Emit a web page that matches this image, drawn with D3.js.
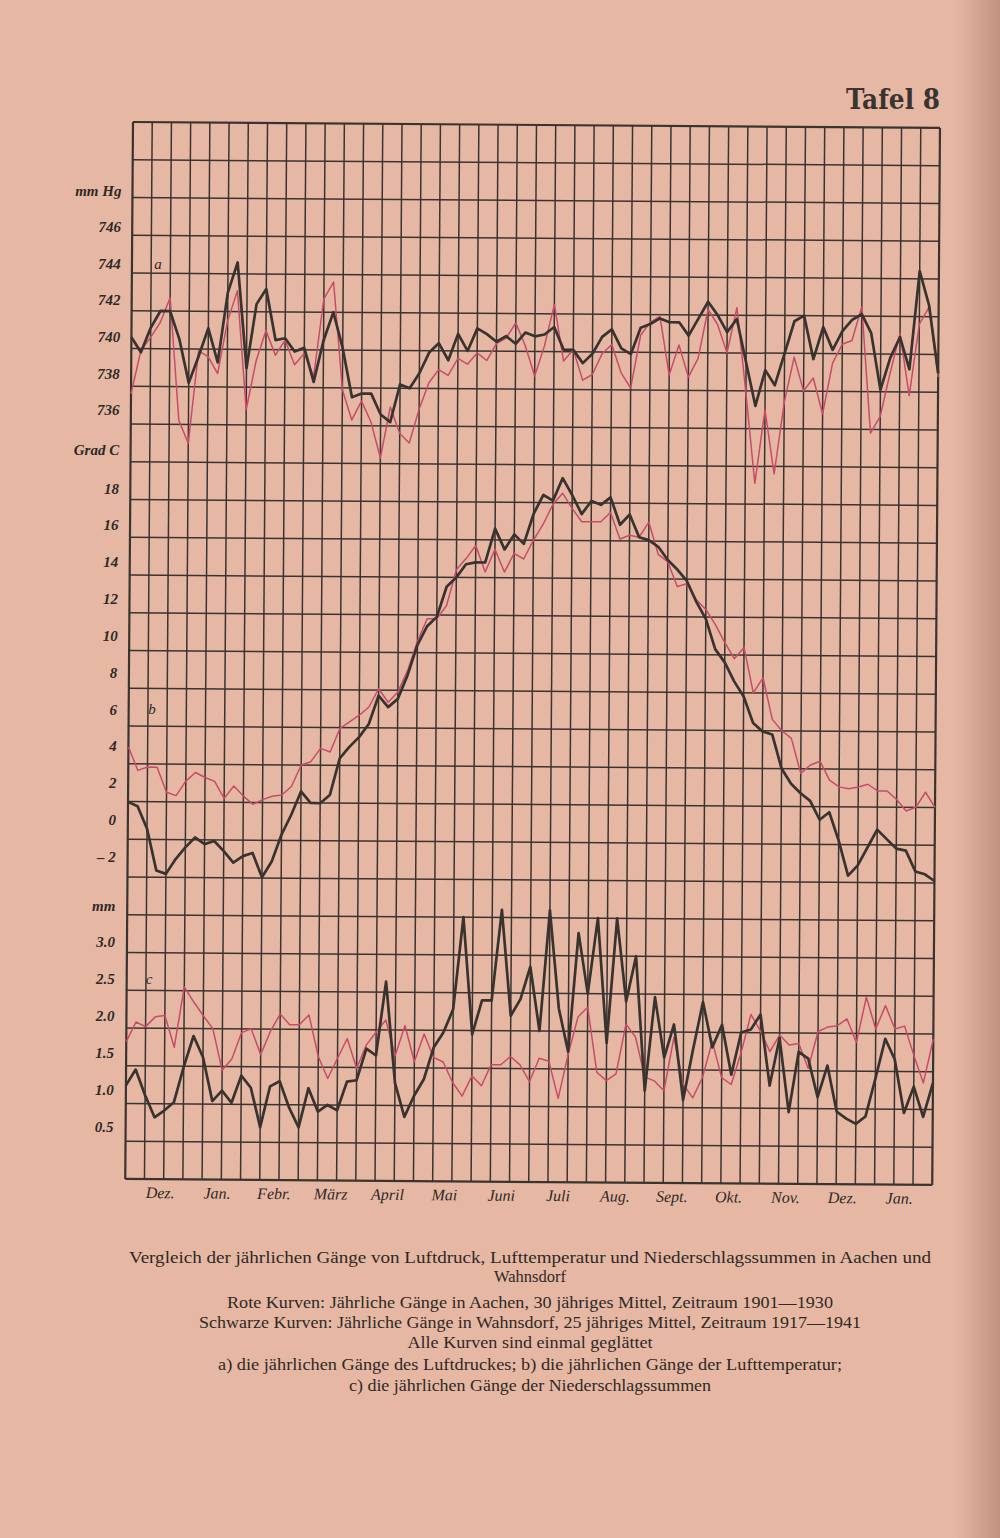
<!DOCTYPE html>
<html lang="de">
<head>
<meta charset="utf-8">
<script src="https://cdn.jsdelivr.net/npm/d3@7"></script>
<style>
  body { margin: 0; background: #e6b8a4; }
  svg { display: block; }
  .lbl { font-family: "Liberation Serif", "DejaVu Serif", serif; font-style: italic; font-weight: bold; font-size: 15px; fill: #2e2926; }
  .mon { font-family: "Liberation Serif", "DejaVu Serif", serif; font-style: italic; font-size: 16px; fill: #2e2926; }
  .cap { font-family: "Liberation Serif", "DejaVu Serif", serif; font-size: 16px; fill: #2e2926; }
  .tafel { font-family: "DejaVu Serif", serif; font-weight: bold; font-size: 28px; fill: #3a3431; }
</style>
</head>
<body>
<svg id="plate"></svg>
<script>
var pageW = 1000, pageH = 1538;
var W = 807, H = 1057;          // grid size, 42 x 28 cells
var ox = 133, oy = 122;         // top-left corner of the grid
var tilt = 0.42;                // the scan is a bit rotated

var months = ["Dez.", "Jan.", "Febr.", "März", "April", "Mai", "Juni", "Juli", "Aug.", "Sept.", "Okt.", "Nov.", "Dez.", "Jan."];
var pressTicks = [746, 744, 742, 740, 738, 736];
var tempTicks = [18, 16, 14, 12, 10, 8, 6, 4, 2, 0, -2];
var precTicks = [3.0, 2.5, 2.0, 1.5, 1.0, 0.5];

// a) Luftdruck, mm Hg (85 values, ~5 days apart)
var pressBlack = [740.6, 739.8, 741.1, 742.0, 742.0, 740.5, 738.2, 739.6, 741.1, 739.3,
  743.0, 744.6, 739.0, 742.4, 743.2, 740.5, 740.6, 739.9, 740.1, 738.3,
  740.5, 742.0, 740.1, 737.5, 737.7, 737.7, 736.6, 736.2, 738.2, 738.0,
  738.8, 739.9, 740.4, 739.5, 740.9, 740.0, 741.2, 740.9, 740.5, 740.8,
  740.4, 741.0, 740.8,
  740.9, 741.3, 740.1, 740.1, 739.4, 739.9, 740.8, 741.2, 740.2, 739.9,
  741.3, 741.5, 741.8, 741.6, 741.6, 740.9, 741.8, 742.7, 742.0, 741.1,
  741.8, 739.5, 737.2, 739.1, 738.3, 740.0, 741.7, 742.0, 739.7, 741.4,
  740.2, 741.2, 741.8, 742.1, 741.1, 738.1, 739.8, 740.9, 739.2, 744.4,
  742.6, 739.0];
var pressRed = [737.6, 739.9, 740.6, 741.4, 742.7, 736.2, 735.0, 739.9, 739.6, 738.7,
  741.5, 743.1, 736.8, 739.4, 741.0, 739.7, 740.5, 739.2, 739.8, 738.6,
  742.7, 743.6, 737.9, 736.3, 737.3, 736.2, 734.3, 737.0, 735.6, 735.1,
  736.9, 738.3, 739.0, 738.7, 739.6, 739.3, 739.9, 739.5, 740.4, 740.7,
  741.5, 740.3, 738.7,
  740.3, 742.5, 739.5, 740.1, 738.5, 738.8, 739.9, 740.4, 738.9, 738.1,
  740.9, 741.6, 741.9, 738.8, 740.4, 738.7, 739.7, 742.3, 741.5, 740.0,
  742.4, 737.9, 733.1, 737.0, 733.6, 737.4, 739.8, 738.0, 738.7, 736.8,
  739.5, 740.5, 740.7, 742.5, 735.8, 736.7, 739.0, 741.1, 737.8, 741.6,
  742.5, 738.8];

// b) Lufttemperatur, Grad C
var tempBlack = [1.98, 1.75, 0.56, -1.65, -1.82, -1.03, -0.41, 0.12, -0.23, -0.06,
  -0.59, -1.2, -0.85, -0.68, -1.96, -1.12, 0.3, 1.36, 2.6, 2.0,
  1.98, 2.42, 4.36, 4.98, 5.5, 6.2, 7.7, 7.1, 7.54, 8.8,
  10.4, 11.4, 11.9, 13.5, 14.0, 14.7, 14.8, 14.8, 16.6, 15.5,
  16.3, 15.8, 17.4,
  18.4, 18.1, 19.3, 18.4, 17.4, 18.1, 17.9, 18.3, 16.85, 17.4,
  16.2, 16.05, 15.7, 15.0, 14.5, 13.9, 12.8, 11.9, 10.3, 9.6,
  8.6, 7.8, 6.4, 5.95, 5.8, 4.0, 3.2, 2.7, 2.3, 1.3,
  1.7, 0.2, -1.65, -1.1, -0.15, 0.8, 0.3, -0.2, -0.3, -1.4,
  -1.55, -1.9];
var tempRed = [4.89, 3.65, 3.83, 3.83, 2.5, 2.33, 3.1, 3.56, 3.3, 3.1,
  2.2, 2.86, 2.33, 1.9, 2.15, 2.33, 2.4, 2.86, 4.0, 4.18,
  4.89, 4.7, 5.95, 6.3, 6.66, 7.1, 8.07, 7.36, 7.9, 9.04,
  10.6, 11.8, 11.8, 12.5, 14.4, 15.0, 15.7, 14.3, 15.5, 14.3,
  15.3, 15.0, 16.0,
  16.85, 17.9, 18.5, 17.7, 17.0, 17.0, 17.0, 17.5, 16.1, 16.3,
  16.2, 17.0, 15.3, 14.9, 13.6, 13.75, 12.9, 12.4, 11.6, 10.65,
  9.8, 10.4, 8.0, 8.8, 6.6, 6.0, 5.6, 3.75, 4.2, 4.4,
  3.4, 3.05, 2.95, 3.05, 3.2, 2.85, 2.85, 2.4, 1.8, 2.0,
  2.8, 2.0];

// c) Niederschlag, mm
var precBlack = [1.24, 1.45, 1.11, 0.82, 0.91, 1.02, 1.49, 1.9, 1.62, 1.04,
  1.18, 1.02, 1.38, 1.22, 0.7, 1.24, 1.31, 0.96, 0.7, 1.22,
  0.91, 1.0, 0.93, 1.31, 1.33, 1.75, 1.66, 2.64, 1.3, 0.85,
  1.13, 1.35, 1.77, 1.97, 2.28, 3.5, 1.95, 2.4, 2.4, 3.6,
  2.2, 2.42, 2.85,
  2.0, 3.6, 2.3, 1.73, 3.3, 2.5, 3.5, 1.85, 3.5, 2.4,
  3.0, 1.22, 2.46, 1.66, 2.1, 1.1, 1.77, 2.4, 1.8, 2.1,
  1.44, 2.0, 2.04, 2.24, 1.3, 1.93, 0.95, 1.75, 1.66, 1.15,
  1.57, 0.96, 0.87, 0.8, 0.9, 1.4, 1.93, 1.66, 0.95, 1.3,
  0.9, 1.35];
var precRed = [1.82, 2.08, 2.02, 2.15, 2.17, 1.75, 2.55, 2.35, 2.17, 2.0,
  1.45, 1.6, 1.95, 2.0, 1.66, 1.97, 2.2, 2.06, 2.06, 2.19,
  1.64, 1.35, 1.62, 1.88, 1.49, 1.8, 1.97, 2.13, 1.66, 2.06,
  1.58, 1.95, 1.64, 1.58, 1.31, 1.13, 1.4, 1.27, 1.55, 1.55,
  1.66, 1.55, 1.33,
  1.64, 1.6, 1.11, 1.69, 2.19, 2.32, 1.46, 1.35, 1.44, 2.1,
  1.93, 1.4, 1.35, 1.22, 1.93, 1.31, 1.13, 1.4, 1.88, 1.4,
  1.31, 1.73, 2.24, 2.02, 1.75, 1.97, 1.84, 1.86, 1.53, 2.02,
  2.08, 2.1, 2.19, 1.88, 2.48, 2.06, 2.37, 2.06, 2.1, 1.71,
  1.35, 1.93];

var captionLines = [
  "Vergleich der jährlichen Gänge von Luftdruck, Lufttemperatur und Niederschlagssummen in Aachen und",
  "Wahnsdorf",
  "Rote Kurven: Jährliche Gänge in Aachen, 30 jähriges Mittel, Zeitraum 1901—1930",
  "Schwarze Kurven: Jährliche Gänge in Wahnsdorf, 25 jähriges Mittel, Zeitraum 1917—1941",
  "Alle Kurven sind einmal geglättet",
  "a) die jährlichen Gänge des Luftdruckes; b) die jährlichen Gänge der Lufttemperatur;",
  "c) die jährlichen Gänge der Niederschlagssummen"
];
var captionWidths = [802, 72, 606, 662, 245, 624, 362];

var svg = d3.select("#plate").attr("width", pageW).attr("height", pageH);

// paper
var defs = svg.append("defs");
var grad = defs.append("linearGradient").attr("id", "edge").attr("x1", "0").attr("x2", "1");
grad.append("stop").attr("offset", "0").attr("stop-color", "#7a4a38").attr("stop-opacity", 0);
grad.append("stop").attr("offset", "1").attr("stop-color", "#7a4a38").attr("stop-opacity", 0.35);
svg.append("rect").attr("width", pageW).attr("height", pageH).attr("fill", "#e6b8a4");
svg.append("rect").attr("x", 955).attr("width", 45).attr("height", pageH).attr("fill", "url(#edge)");

svg.append("text").attr("class", "tafel")
  .attr("x", 940).attr("y", 109).attr("text-anchor", "end")
  .attr("textLength", 94).attr("lengthAdjust", "spacingAndGlyphs")
  .text("Tafel 8");

// chart frame (rotated like the scan)
var g = svg.append("g").attr("transform", "translate(" + ox + "," + oy + ") rotate(" + tilt + ")");

var gx = d3.scaleLinear().domain([0, 42]).range([0, W]);
var gy = d3.scaleLinear().domain([0, 28]).range([0, H]);
var x = d3.scaleLinear().domain([0, 84]).range([0, W]);

// each panel: value scale aligned to grid rows
var yPress = d3.scaleLinear().domain([744, 734]).range([gy(4), gy(9)]);
var yTemp = d3.scaleLinear().domain([18, -2]).range([gy(10), gy(20)]);
var yPrec = d3.scaleLinear().domain([3.5, 0]).range([gy(21), gy(28)]);

g.selectAll("line.v").data(d3.range(43)).enter().append("line")
  .attr("class", "v")
  .attr("x1", function(d) { return gx(d); }).attr("x2", function(d) { return gx(d); })
  .attr("y1", 0).attr("y2", H)
  .attr("stroke", "#3a3430").attr("stroke-width", function(d) { return (d == 0 || d == 42) ? 2.2 : 1.5; });
g.selectAll("line.h").data(d3.range(29)).enter().append("line")
  .attr("class", "h")
  .attr("y1", function(d) { return gy(d); }).attr("y2", function(d) { return gy(d); })
  .attr("x1", 0).attr("x2", W)
  .attr("stroke", "#3a3430").attr("stroke-width", function(d) { return (d == 0 || d == 28) ? 2.2 : 1.5; });

var draw = function(data, yScale, color, width) {
  var line = d3.line()
    .x(function(d, i) { return x(i); })
    .y(function(d) { return yScale(d); });
  g.append("path").datum(data)
    .attr("d", line)
    .attr("fill", "none")
    .attr("stroke", color)
    .attr("stroke-width", width)
    .attr("stroke-linejoin", "round");
};

// red first, black on top
draw(pressRed, yPress, "#c64c68", 1.5);
draw(tempRed, yTemp, "#c64c68", 1.5);
draw(precRed, yPrec, "#c64c68", 1.5);
draw(pressBlack, yPress, "#38332f", 2.7);
draw(tempBlack, yTemp, "#38332f", 2.7);
draw(precBlack, yPrec, "#38332f", 2.7);

// month names under the grid
var mx = d3.scaleLinear().domain([0, months.length - 1]).range([35, 774]);
g.selectAll("text.mon").data(months).enter().append("text")
  .attr("class", "mon")
  .attr("x", function(d, i) { return mx(i); })
  .attr("y", H + 19)
  .attr("text-anchor", "middle")
  .text(function(d) { return d; });

// tick labels on the left (printed slightly off the grid lines)
var lpPress = d3.scaleLinear().domain([746, 736]).range([227, 410]);
var lpTemp = d3.scaleLinear().domain([18, -2]).range([488.3, 856.7]);
var lpPrec = d3.scaleLinear().domain([3.0, 0.5]).range([941.7, 1127]);
var labelX = function(y) { return 122 - (y - 122) * 0.0085; };

var addLabels = function(ticks, scale, fmt) {
  svg.selectAll(null).data(ticks).enter().append("text")
    .attr("class", "lbl")
    .attr("x", function(d) { return labelX(scale(d)); })
    .attr("y", function(d) { return scale(d); })
    .attr("dy", "0.35em")
    .attr("text-anchor", "end")
    .text(fmt);
};
addLabels(pressTicks, lpPress, function(d) { return d; });
addLabels(tempTicks, lpTemp, function(d) { return d < 0 ? "– " + (-d) : d; });
addLabels(precTicks, lpPrec, function(d) { return d.toFixed(1); });

var units = [["mm Hg", lpPress(748)], ["Grad C", lpPress(734) + 3], ["mm", lpPrec(3.5) + 1]];
svg.selectAll(null).data(units).enter().append("text")
  .attr("class", "lbl")
  .attr("x", function(d) { return labelX(d[1]); })
  .attr("y", function(d) { return d[1]; })
  .attr("dy", "0.35em")
  .attr("text-anchor", "end")
  .text(function(d) { return d[0]; });

// panel letters
var letters = [["a", 158, 264], ["b", 152, 709], ["c", 149, 979]];
svg.selectAll(null).data(letters).enter().append("text")
  .attr("class", "lbl")
  .style("font-weight", "normal")
  .attr("x", function(d) { return d[1]; })
  .attr("y", function(d) { return d[2]; })
  .attr("dy", "0.35em")
  .attr("text-anchor", "middle")
  .text(function(d) { return d[0]; });

// caption
var capY = [1263, 1282, 1308, 1328, 1348, 1370, 1391];
svg.selectAll("text.cap").data(captionLines).enter().append("text")
  .attr("class", "cap")
  .attr("x", 530)
  .attr("y", function(d, i) { return capY[i]; })
  .attr("text-anchor", "middle")
  .attr("textLength", function(d, i) { return captionWidths[i]; })
  .attr("lengthAdjust", "spacingAndGlyphs")
  .text(function(d) { return d; });
</script>
</body>
</html>
